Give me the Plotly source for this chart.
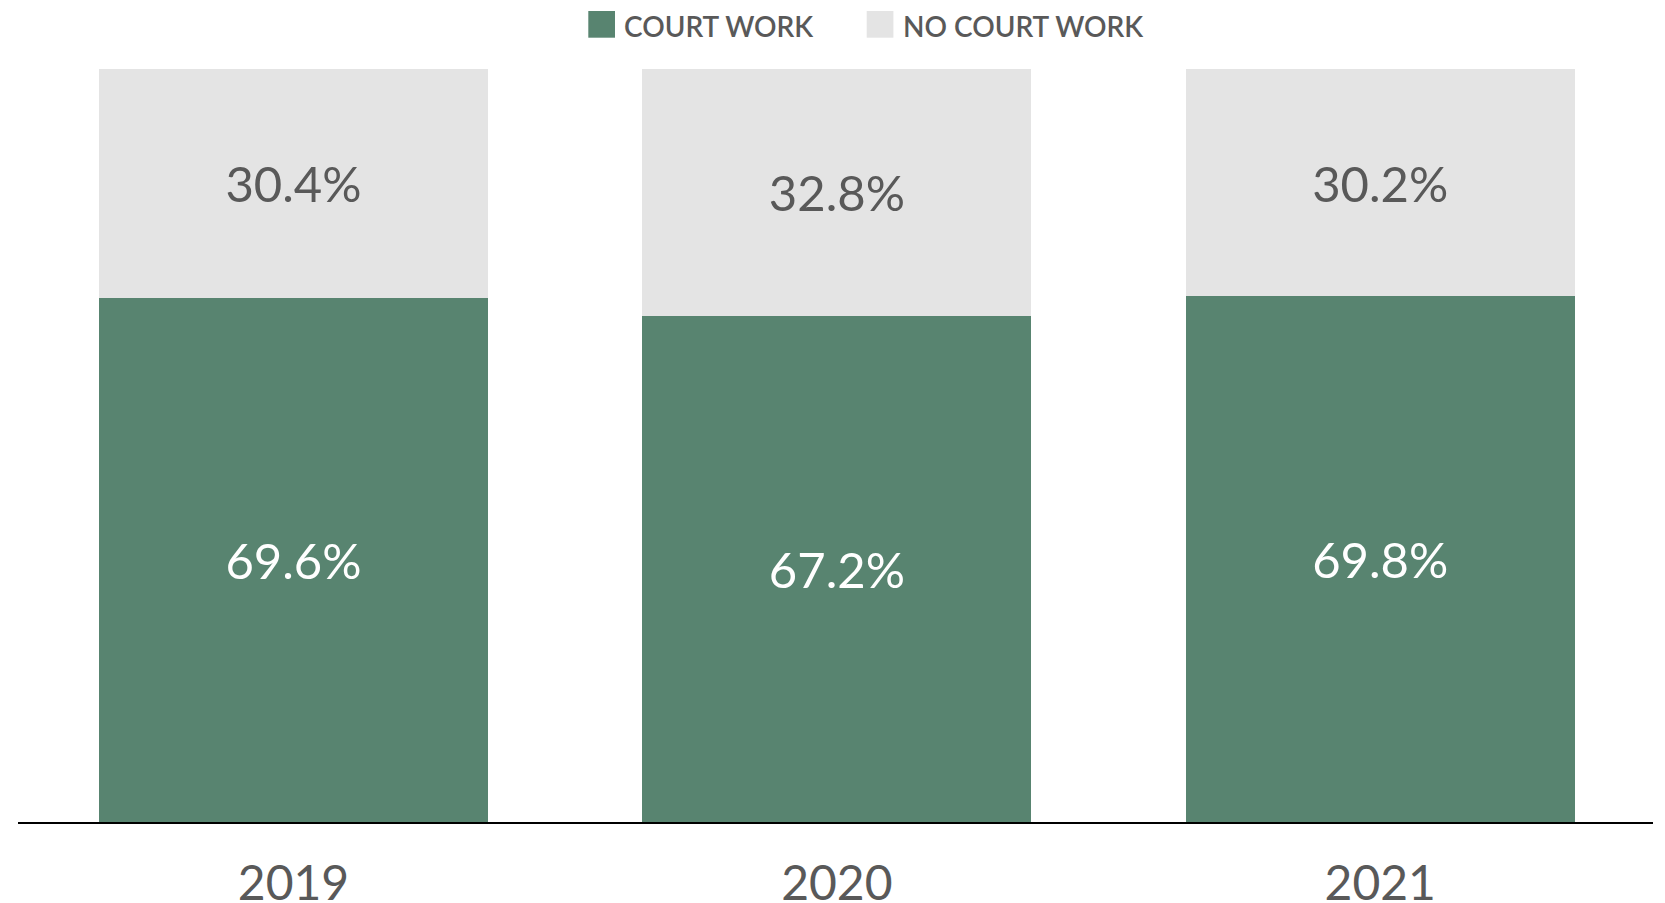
import plotly.graph_objects as go

years = ["2019", "2020", "2021"]
court_work = [69.6, 67.2, 69.8]
no_court_work = [30.4, 32.8, 30.2]
series_names = ["COURT WORK", "NO COURT WORK"]

GREEN = "#588470"
GREY = "#e4e4e4"
TEXT = "#595959"
FONT = "Lato"

W, H = 1665, 903
# plot area in viewport pixels (page body adds an 8px offset)
PX0, PX1, PY0, PY1 = 18, 1653, 69, 822
OFF = 8

fig = go.Figure()
fig.add_trace(go.Bar(
    x=years, y=court_work, name=series_names[0],
    marker=dict(color=GREEN, line=dict(width=0)),
    text=[f"{v:.1f}%" for v in court_work],
    textposition="inside", insidetextanchor="middle", textangle=0,
    textfont=dict(family=FONT, size=49, color="white"),
    showlegend=False, hoverinfo="skip",
))
fig.add_trace(go.Bar(
    x=years, y=no_court_work, name=series_names[1],
    marker=dict(color=GREY, line=dict(width=0)),
    text=[f"{v:.1f}%" for v in no_court_work],
    textposition="inside", insidetextanchor="middle", textangle=0,
    textfont=dict(family=FONT, size=49, color=TEXT),
    showlegend=False, hoverinfo="skip",
))


def px(xv):
    return (xv - PX0) / (PX1 - PX0)


def py(yv):
    return (PY1 - yv) / (PY1 - PY0)


# custom legend (large square swatches)
legend_items = [(series_names[0], GREEN, 588.3), (series_names[1], GREY, 866.7)]
for name, col, x0 in legend_items:
    fig.add_shape(type="rect", xref="paper", yref="paper",
                  x0=px(x0), x1=px(x0 + 26.7),
                  y0=py(37.7), y1=py(11),
                  fillcolor=col, line=dict(width=0), layer="above")
    fig.add_annotation(xref="paper", yref="paper",
                       x=px(x0 + 34), y=py(25.5),
                       xanchor="left", yanchor="middle", showarrow=False,
                       text=name,
                       font=dict(family=FONT, size=28, color=TEXT, weight=600))

fig.update_layout(
    barmode="stack",
    bargap=0.284,
    width=W, height=H,
    margin=dict(l=PX0 - OFF, r=W - (PX1 - OFF), t=PY0 - OFF, b=H - (PY1 - OFF),
                autoexpand=False),
    paper_bgcolor="white", plot_bgcolor="white",
    showlegend=False,
    xaxis=dict(
        type="category", range=[-0.507, 2.502],
        showline=True, linecolor="black", linewidth=2,
        showgrid=False, ticks="", zeroline=False, automargin=False,
        tickfont=dict(family=FONT, size=48, color=TEXT),
        ticklabelstandoff=18,
    ),
    yaxis=dict(range=[0, 100], visible=False, showgrid=False, zeroline=False,
               automargin=False),
)

fig.write_html("out.html")
